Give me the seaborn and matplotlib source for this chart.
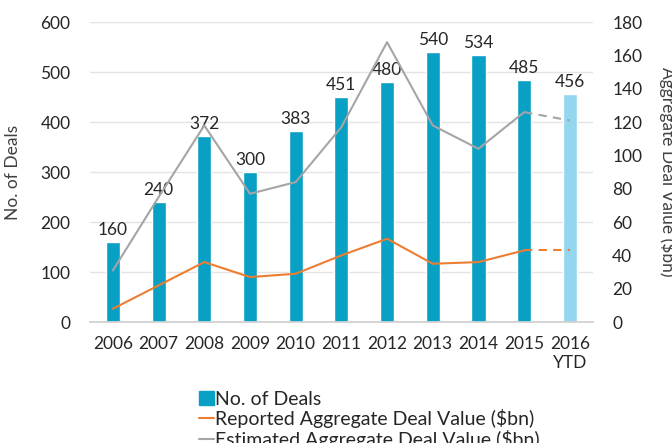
import matplotlib
matplotlib.use("Agg")
import matplotlib.pyplot as plt
import seaborn as sns
import pandas as pd
from matplotlib.patches import Patch
from matplotlib.lines import Line2D

years = ["2006", "2007", "2008", "2009", "2010", "2011", "2012", "2013", "2014", "2015", "2016\nYTD"]
deals = [160, 240, 372, 300, 383, 451, 480, 540, 534, 485, 456]
reported = [8, 22, 36, 27, 29, 40, 50, 35, 36, 43, 43]
estimated = [31, 75, 118, 77, 84, 117, 168, 118, 104, 126, 121]

bar_dark = "#08a0c4"
bar_light = "#92d6ef"
orange = "#ed7d31"
grey = "#a5a5a5"
text_col = "#262626"

sns.set_theme(style="white")
plt.rcParams["font.family"] = ["Lato", "DejaVu Sans"]

df = pd.DataFrame({"year": years, "deals": deals})
colors = [bar_dark] * (len(years) - 1) + [bar_light]

fig = plt.figure(figsize=(6.72, 4.43), dpi=100)
ax = fig.add_axes([0.134, 0.273, 0.748, 0.677])

# bars for deal counts, last year lighter
sns.barplot(data=df, x="year", y="deals", hue="year", palette=colors,
            legend=False, width=0.31, ax=ax, saturation=1)
for i, v in enumerate(deals):
    ax.text(i, v + 8, str(v), ha="center", va="bottom", fontsize=12.5, color=text_col)

ax.set_ylim(0, 600)
ax.set_yticks(range(0, 601, 100))
ax.yaxis.grid(True, color="#e4e4e4", linewidth=1)
ax.set_axisbelow(True)
for s in ["top", "right", "left"]:
    ax.spines[s].set_visible(False)
ax.spines["bottom"].set_color("#d0d0d0")
ax.tick_params(axis="both", length=0, labelsize=12.5, colors=text_col)
ax.tick_params(axis="x", pad=10)
ax.tick_params(axis="y", pad=14)
ax.set_xlabel("")
ax.set_ylabel("No. of Deals", fontsize=12.5, color="#404040", labelpad=14)
ax.set_xlim(-0.5, len(years) - 0.5)

# deal value lines on secondary axis, dashed for YTD segment
ax2 = ax.twinx()
x = list(range(len(years)))
n = len(years) - 1
sns.lineplot(x=x[:n], y=estimated[:n], color=grey, linewidth=1.5, ax=ax2)
sns.lineplot(x=x[n - 1:], y=estimated[n - 1:], color=grey, linewidth=1.5, linestyle=(0, (4, 3)), ax=ax2)
sns.lineplot(x=x[:n], y=reported[:n], color=orange, linewidth=1.5, ax=ax2)
sns.lineplot(x=x[n - 1:], y=reported[n - 1:], color=orange, linewidth=1.5, linestyle=(0, (4, 3)), ax=ax2)
ax2.set_ylim(0, 180)
ax2.set_yticks(range(0, 181, 20))
for s in ["top", "right", "left", "bottom"]:
    ax2.spines[s].set_visible(False)
ax2.tick_params(axis="y", length=0, labelsize=12.5, colors=text_col, pad=14)
ax2.set_ylabel("Aggregate Deal Value ($bn)", fontsize=12.5, color="#404040",
               rotation=-90, labelpad=25)
ax2.set_xlim(-0.5, len(years) - 0.5)

handles = [
    Patch(facecolor=bar_dark, edgecolor=bar_dark),
    Line2D([0], [0], color=orange, linewidth=1.5),
    Line2D([0], [0], color=grey, linewidth=1.5),
]
labels = ["No. of Deals", "Reported Aggregate Deal Value ($bn)", "Estimated Aggregate Deal Value ($bn)"]
fig.legend(handles, labels, loc="upper left", bbox_to_anchor=(0.282, 1 - 381 / 443),
           frameon=False, fontsize=14, labelspacing=0.08, handlelength=0.75,
           handletextpad=0.05, borderpad=0, labelcolor=text_col)

fig.savefig("out.png", dpi=100)
